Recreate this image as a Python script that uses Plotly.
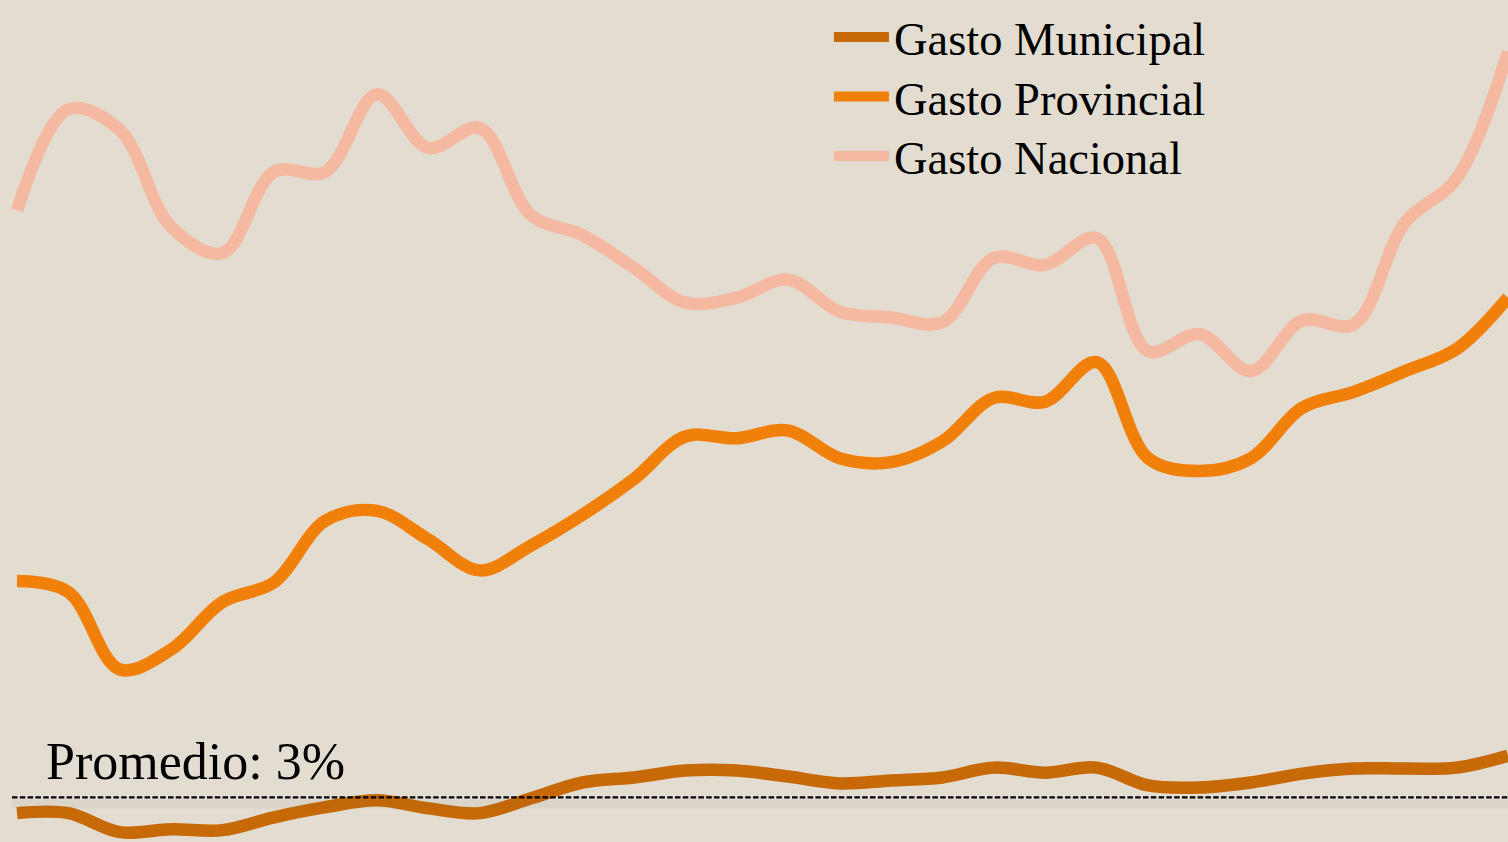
import plotly.graph_objects as go

years = list(range(1980, 2010))

gasto_municipal = [2.47, 2.47, 1.83, 1.93, 1.90, 2.33, 2.67, 2.90, 2.63, 2.47,
                   2.97, 3.50, 3.67, 3.90, 3.90, 3.70, 3.47, 3.57, 3.67, 4.00,
                   3.83, 4.00, 3.40, 3.33, 3.50, 3.80, 3.97, 3.97, 4.00, 4.40]

gasto_provincial = [10.27, 9.90, 7.30, 7.97, 9.57, 10.23, 12.30, 12.63, 11.67, 10.63,
                    11.47, 12.50, 13.70, 15.13, 15.07, 15.33, 14.40, 14.27, 14.97, 16.43,
                    16.30, 17.63, 14.40, 13.97, 14.40, 16.10, 16.63, 17.33, 18.07, 19.80]

gasto_nacional = [22.73, 26.13, 25.43, 22.17, 21.30, 24.03, 24.03, 26.63, 24.83, 25.50,
                  22.57, 21.90, 20.80, 19.63, 19.80, 20.40, 19.33, 19.13, 18.97, 21.13,
                  20.90, 21.80, 18.00, 18.57, 17.33, 19.03, 18.90, 22.33, 23.80, 28.07]

promedio = 3.0
promedio_label = "Promedio: 3%"

series = [
    ("Gasto Municipal", gasto_municipal, "#C66906"),
    ("Gasto Provincial", gasto_provincial, "#F0800A"),
    ("Gasto Nacional", gasto_nacional, "#F4B9A0"),
]

BG = "#E3DDD1"
FONT = "Liberation Serif, Times New Roman, serif"
W, H = 1508, 842

legend_ids = ["legend", "legend2", "legend3"]

fig = go.Figure()
for (name, vals, color), lid in zip(series, legend_ids):
    fig.add_trace(go.Scatter(
        x=years, y=vals, name=name, mode="lines", legend=lid,
        line=dict(color=color, width=12.5, shape="spline", smoothing=1.0),
        hoverinfo="x+y+name",
    ))

# soft shadow under the average line
fig.add_shape(type="line", xref="paper", x0=12 / W, x1=1, yref="y", y0=promedio - 0.22, y1=promedio - 0.22,
              line=dict(color="rgba(90,80,60,0.06)", width=9), layer="above")
fig.add_shape(type="line", xref="paper", x0=12 / W, x1=1, yref="y", y0=promedio, y1=promedio,
              line=dict(color="black", width=2.2, dash="5.5px,2.3px"), layer="above")

fig.add_annotation(
    text=promedio_label, xref="paper", yref="y", x=44 / W, y=promedio,
    xanchor="left", yanchor="bottom", showarrow=False, yshift=5,
    font=dict(family=FONT, size=52, color="black"),
)

legend_common = dict(
    x=0.5497, xanchor="left", yanchor="middle",
    bgcolor="rgba(0,0,0,0)", borderwidth=0,
    font=dict(family=FONT, size=46.5, color="black"),
    itemwidth=55,
)
legend_centers_px = [30.5, 90.5, 150.5]

layout_legends = {}
for lid, c in zip(legend_ids, legend_centers_px):
    layout_legends[lid] = dict(legend_common, y=1 - c / H)

fig.update_layout(
    width=W, height=H,
    margin=dict(l=0, r=0, t=0, b=0),
    paper_bgcolor=BG, plot_bgcolor=BG,
    xaxis=dict(visible=False, range=[years[0] - 0.331, years[-1]]),
    yaxis=dict(visible=False, range=[1.5, 29.567]),
    showlegend=True,
    **layout_legends,
)

fig.write_html(
    "out.html",
    config={"displayModeBar": False},
    post_script="document.body.style.margin='0';document.body.style.overflow='hidden';",
)
